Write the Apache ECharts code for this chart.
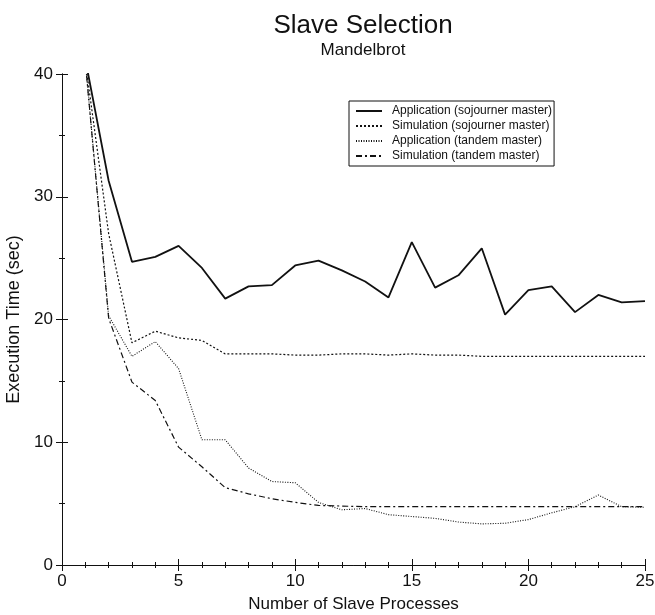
<!DOCTYPE html>
<html>
<head>
<meta charset="utf-8">
<script src="https://cdn.jsdelivr.net/npm/echarts@6/dist/echarts.min.js"></script>
<style>
  html, body { margin: 0; padding: 0; background: #fff; }
  #chart { width: 655px; height: 615px; }
</style>
</head>
<body>
<div id="chart"></div>
<script>
// number of slave processes
const procs = [1, 2, 3, 4, 5, 6, 7, 8, 9, 10, 11, 12, 13, 14, 15, 16, 17, 18, 19, 20, 21, 22, 23, 24, 25];

// execution time (sec)
const appSojourner = [41.2, 31.3, 24.7, 25.1, 26.0, 24.2, 21.7, 22.7, 22.8, 24.4, 24.8, 24.0, 23.1, 21.8, 26.3, 22.6, 23.6, 25.8, 20.4, 22.4, 22.7, 20.6, 22.0, 21.4, 21.5];
const simSojourner = [41.0, 27.0, 18.1, 19.05, 18.5, 18.3, 17.2, 17.2, 17.2, 17.1, 17.1, 17.2, 17.2, 17.1, 17.2, 17.1, 17.1, 17.0, 17.0, 17.0, 17.0, 17.0, 17.0, 17.0, 17.0];
const appTandem = [41.0, 20.3, 17.0, 18.2, 16.0, 10.2, 10.2, 7.9, 6.8, 6.7, 5.1, 4.5, 4.6, 4.1, 3.95, 3.8, 3.5, 3.35, 3.4, 3.7, 4.25, 4.75, 5.7, 4.75, 4.7];
const simTandem = [41.0, 20.1, 14.9, 13.4, 9.6, 8.0, 6.3, 5.8, 5.4, 5.1, 4.85, 4.8, 4.75, 4.75, 4.75, 4.75, 4.75, 4.75, 4.75, 4.75, 4.75, 4.75, 4.75, 4.75, 4.75];

const seriesNames = [
  'Application (sojourner master)',
  'Simulation (sojourner master)',
  'Application (tandem master)',
  'Simulation (tandem master)'
];

const font = '"Liberation Sans", Arial, sans-serif';
const ink = '#111';

const chart = echarts.init(document.getElementById('chart'));

// pairs [x, y] for a value x axis
const pairs = vals => procs.map((p, i) => [p, vals[i]]);

const makeLine = (name, vals, width, type) => ({
  name: name,
  type: 'line',
  data: pairs(vals),
  symbol: 'none',
  clip: true,
  xAxisIndex: 0,
  yAxisIndex: 0,
  color: ink,
  lineStyle: { color: ink, width: width, type: type },
  emphasis: { disabled: true }
});

// an axis used only for its frame line and inward ticks
const frameAxis = (min, max, interval, position, tickLen, showLine) => ({
  type: 'value',
  min: min,
  max: max,
  interval: interval,
  position: position,
  axisLine: { show: showLine, lineStyle: { color: ink, width: 1 } },
  axisTick: { show: true, inside: true, length: tickLen, lineStyle: { color: ink } },
  axisLabel: { show: false },
  splitLine: { show: false }
});

const option = {
  backgroundColor: '#fff',
  animation: false,
  title: [
    {
      text: 'Slave Selection',
      left: 358,
      top: 8,
      textAlign: 'center',
      textStyle: { fontFamily: font, fontSize: 26, fontWeight: 'normal', color: ink }
    },
    {
      text: 'Mandelbrot',
      left: 358,
      top: 37,
      textAlign: 'center',
      textStyle: { fontFamily: font, fontSize: 17, fontWeight: 'normal', color: ink }
    }
  ],
  legend: {
    orient: 'vertical',
    left: 349,
    top: 101,
    data: seriesNames,
    itemWidth: 26,
    itemHeight: 10,
    itemGap: 3,
    padding: [4, 2, 4, 6],
    borderColor: ink,
    borderWidth: 1,
    backgroundColor: '#fff',
    itemStyle: { opacity: 0 },
    textStyle: { fontFamily: font, fontSize: 12, color: ink, padding: [0, 0, 0, 5] },
    selectedMode: false
  },
  grid: {
    left: 62,
    right: 10,
    top: 74,
    bottom: 50,
    containLabel: false,
    outerBoundsMode: 'none'
  },
  xAxis: [
    Object.assign(frameAxis(0, 25, 5, 'bottom', 6, true), {
      name: 'Number of Slave Processes',
      nameLocation: 'middle',
      nameGap: 31,
      nameTextStyle: { fontFamily: font, fontSize: 17, color: ink },
      axisLabel: { show: true, fontFamily: font, fontSize: 17, color: ink, margin: 8 }
    }),
    frameAxis(0, 25, 5, 'top', 6, true),
    frameAxis(0, 25, 1, 'bottom', 3, false),
    frameAxis(0, 25, 1, 'top', 3, false)
  ],
  yAxis: [
    Object.assign(frameAxis(0, 40, 10, 'left', 6, true), {
      name: 'Execution Time (sec)',
      nameLocation: 'middle',
      nameGap: 31,
      nameTextStyle: { fontFamily: font, fontSize: 18, color: ink },
      axisLabel: { show: true, fontFamily: font, fontSize: 17, color: ink, margin: 9 }
    }),
    frameAxis(0, 40, 10, 'right', 6, true),
    frameAxis(0, 40, 5, 'left', 3, false),
    frameAxis(0, 40, 5, 'right', 3, false)
  ],
  series: [
    makeLine(seriesNames[0], appSojourner, 1.8, 'solid'),
    makeLine(seriesNames[1], simSojourner, 1.2, [2, 2]),
    makeLine(seriesNames[2], appTandem, 1.1, [1, 1.5]),
    makeLine(seriesNames[3], simTandem, 1.2, [6, 3, 2, 3])
  ]
};

chart.setOption(option);
</script>
</body>
</html>
